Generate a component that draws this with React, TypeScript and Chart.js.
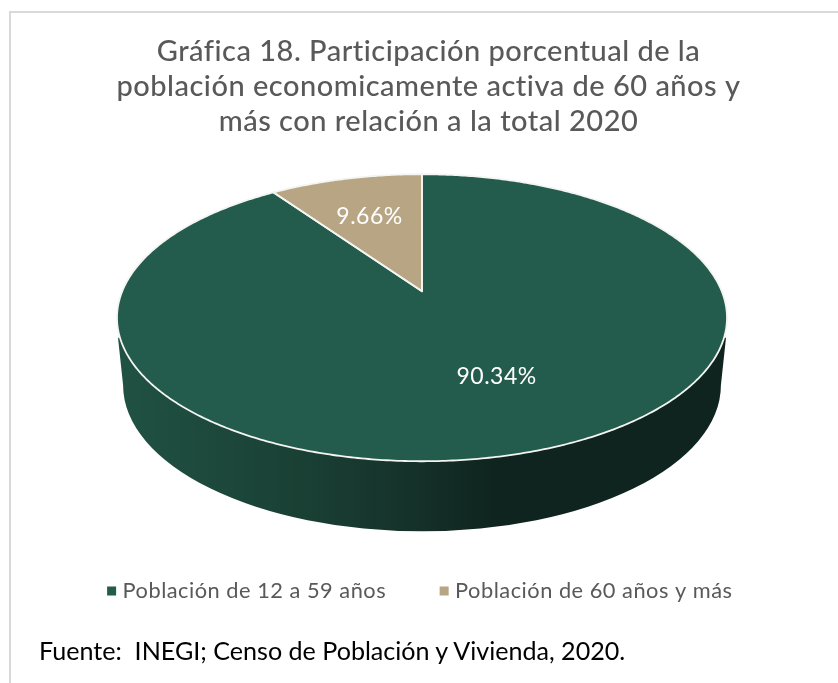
import React, { useEffect, useRef } from "react";
import { Chart, registerables } from "chart.js";

Chart.register(...registerables);

const titleLines = [
  "Gráfica 18. Participación porcentual de la",
  "población economicamente activa de 60 años y",
  "más con relación a la total 2020",
];
const categories = ["Población de 12 a 59 años", "Población de 60 años y más"];
const shares = [90.34, 9.66];
const shareLabels = ["90.34%", "9.66%"];
const colors = ["#235C4D", "#B8A583"];
const sourceNote = "Fuente:  INEGI; Censo de Población y Vivienda, 2020.";

const TEXT = "#595959";
const FONT = "Lato, sans-serif";
const RADIUS = 305;
const TILT = 143.5 / RADIUS; // vertical squash of the disc
const PERSP = 0.1847; // perspective strength
const Y_SHIFT = -13;
const LETTER_SPACING = "0.5px";
const LABEL_NUDGE = [
  { dx: 8.5, dy: -12.6 },
  { dx: 0, dy: 3 },
];

function projector(cx: number, cy: number, R: number) {
  const A = R * Math.sqrt(1 - PERSP * PERSP);
  const B = R * TILT;
  const C = B * PERSP;
  return (t: number, f: number) => {
    const u = f * Math.cos(t);
    const v = -f * Math.sin(t);
    const w = 1 + PERSP * v;
    return { x: cx + (A * u) / w, y: cy - (B * v + C) / w };
  };
}

const pie3d = {
  id: "pie3d",
  beforeLayout(chart: any) {
    chart.ctx.letterSpacing = LETTER_SPACING;
  },
  afterLayout(chart: any) {
    chart.titleBlock.left += 13;
  },
  beforeDraw(chart: any) {
    chart.ctx.letterSpacing = LETTER_SPACING;
  },
  beforeDatasetsDraw(chart: any) {
    const ctx = chart.ctx;
    const arcs = chart.getDatasetMeta(0).data;
    const cx = arcs[0].x;
    const cy = arcs[0].y + Y_SHIFT;
    const R = arcs[0].outerRadius;
    const depth = R * 0.2213;
    const lowRx = R * 0.98;
    const lowRy = R * 0.479;

    const grad = ctx.createLinearGradient(cx - R, 0, cx + R, 0);
    grad.addColorStop(0, "#205244");
    grad.addColorStop(0.3, "#1A4034");
    grad.addColorStop(0.48, "#15322A");
    grad.addColorStop(0.62, "#0F241E");
    grad.addColorStop(1, "#0F241E");
    ctx.save();
    ctx.beginPath();
    ctx.moveTo(cx - R + 1, cy + 20);
    ctx.lineTo(cx - lowRx, cy + depth);
    ctx.ellipse(cx, cy + depth, lowRx, lowRy, 0, Math.PI, 0, true);
    ctx.lineTo(cx + R - 1, cy + 20);
    ctx.closePath();
    ctx.fillStyle = grad;
    ctx.fill();

    const project = projector(cx, cy, R);
    const trace = (arc: any) => {
      const steps = Math.max(8, Math.ceil((arc.endAngle - arc.startAngle) / 0.01));
      ctx.beginPath();
      const apex = project(0, 0);
      ctx.moveTo(apex.x, apex.y);
      for (let s = 0; s <= steps; s++) {
        const p = project(arc.startAngle + ((arc.endAngle - arc.startAngle) * s) / steps, 1);
        ctx.lineTo(p.x, p.y);
      }
      ctx.closePath();
    };
    arcs.forEach((arc: any, i: number) => {
      trace(arc);
      ctx.fillStyle = colors[i];
      ctx.fill();
    });
    arcs.forEach((arc: any) => {
      trace(arc);
      ctx.strokeStyle = "#F4F4F2";
      ctx.lineWidth = 1.8;
      ctx.lineJoin = "round";
      ctx.stroke();
    });
    ctx.restore();
  },
  beforeDatasetDraw() {
    return false;
  },
  afterDatasetsDraw(chart: any) {
    const ctx = chart.ctx;
    const arcs = chart.getDatasetMeta(0).data;
    const project = projector(arcs[0].x, arcs[0].y + Y_SHIFT, arcs[0].outerRadius);
    ctx.save();
    ctx.fillStyle = "#FFFFFF";
    ctx.font = `23px ${FONT}`;
    ctx.textAlign = "center";
    ctx.textBaseline = "middle";
    arcs.forEach((arc: any, i: number) => {
      const p = project((arc.startAngle + arc.endAngle) / 2, 0.653);
      ctx.fillText(shareLabels[i], p.x + LABEL_NUDGE[i].dx, p.y + LABEL_NUDGE[i].dy);
    });
    ctx.restore();
  },
};

export default function App() {
  const ref = useRef<HTMLCanvasElement>(null);
  useEffect(() => {
    const chart = new Chart(ref.current!, {
      type: "pie",
      data: {
        labels: categories,
        datasets: [
          {
            data: shares,
            backgroundColor: colors,
            borderWidth: 0,
            radius: RADIUS,
          },
        ],
      },
      options: {
        responsive: false,
        animation: false,
        layout: { padding: { left: 6, top: 34, right: 0, bottom: 71 } },
        plugins: {
          tooltip: { enabled: false },
          title: {
            display: true,
            text: titleLines,
            color: TEXT,
            font: { family: FONT, size: 29, weight: "500", lineHeight: 1.21 },
            padding: { top: 0, bottom: 0 },
          },
          legend: {
            position: "bottom",
            labels: {
              color: TEXT,
              font: { family: FONT, size: 21.8 },
              usePointStyle: true,
              pointStyle: "rect",
              boxWidth: 0.1,
              boxHeight: 9,
              padding: 58,
            },
          },
        },
      },
      plugins: [pie3d],
    } as any);
    return () => chart.destroy();
  }, []);

  return (
    <div style={{ position: "fixed", left: 0, top: 0, width: 838, height: 683, overflow: "hidden", background: "#fff" }}>
      <div
        style={{
          position: "absolute",
          left: 9,
          top: 11,
          width: 900,
          height: 800,
          borderLeft: "2px solid #D9D9D9",
          borderTop: "2px solid #D9D9D9",
        }}
      />
      <canvas ref={ref} width={838} height={683} style={{ position: "absolute", left: 0, top: 0, width: 838, height: 683 }} />
      <div
        style={{
          position: "absolute",
          left: 39,
          top: 634,
          fontFamily: FONT,
          fontSize: 25.1,
          lineHeight: "32px",
          color: "#000",
          whiteSpace: "pre",
        }}
      >
        {sourceNote}
      </div>
    </div>
  );
}
